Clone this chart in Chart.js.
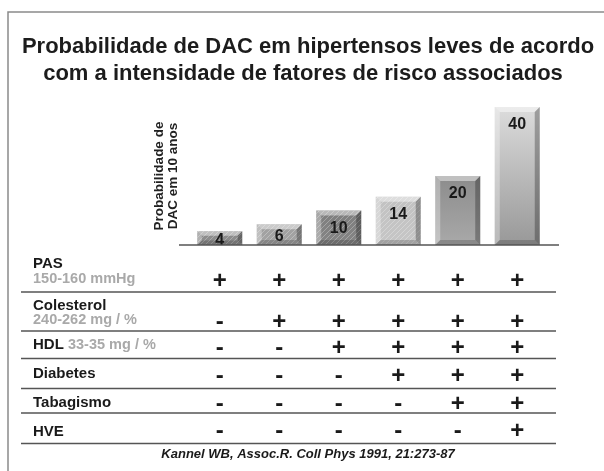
<!DOCTYPE html>
<html>
<head>
<meta charset="utf-8">
<script src="https://cdn.jsdelivr.net/npm/chart.js@4.4.1/dist/chart.umd.min.js"></script>
<style>
	html, body { margin: 0; padding: 0; background: #fff; }
	#caixa { width: 604px; height: 471px; }
</style>
</head>
<body>
<div id="caixa"><canvas id="grafico" width="604" height="471"></canvas></div>
<script>
// Dados do gráfico
const grupos = ["1", "2", "3", "4", "5", "6"];
const probabilidade = [4, 6, 10, 14, 20, 40];
const titulo = [
	"Probabilidade de DAC em hipertensos leves de acordo",
	"com a intensidade de fatores de risco associados",
];
const eixoY = ["Probabilidade de", "DAC em 10 anos"];

// Tabela de fatores de risco
const fatores = ["PAS", "Colesterol", "HDL", "Diabetes", "Tabagismo", "HVE"];
const detalhes = ["150-160 mmHg", "240-262 mg / %", "33-35 mg / %", "", "", ""];
const pas = ["+", "+", "+", "+", "+", "+"];
const colesterol = ["-", "+", "+", "+", "+", "+"];
const hdl = ["-", "-", "+", "+", "+", "+"];
const diabetes = ["-", "-", "-", "+", "+", "+"];
const tabagismo = ["-", "-", "-", "-", "+", "+"];
const hve = ["-", "-", "-", "-", "-", "+"];
const fonte = "Kannel WB, Assoc.R. Coll Phys 1991, 21:273-87";

const letra = "Arial, 'Liberation Sans', sans-serif";

// Cores das faces das barras (topo, base)
const faces = [
	["#8a8a8a", "#8e8e8e"],
	["#a0a0a0", "#a4a4a4"],
	["#7e7e7e", "#858585"],
	["#c2c2c2", "#c6c6c6"],
	["#8c8c8c", "#a9a9a9"],
	["#dcdcdc", "#989898"],
];
const hachurado = [true, true, true, true, false, false];

// Posições verticais das linhas da tabela
const linhas = [
	{ rot: 268, sub: 283, cruz: 280, linha: 292 },
	{ rot: 310, sub: 324, cruz: 320.7, linha: 331 },
	{ rot: 349, sub: null, cruz: 346.7, linha: 358.5 },
	{ rot: 378, sub: null, cruz: 375, linha: 388.5 },
	{ rot: 406.5, sub: null, cruz: 402.7, linha: 413 },
	{ rot: 436, sub: null, cruz: 430, linha: 443.5 },
];
const marcas = [pas, colesterol, hdl, diabetes, tabagismo, hve];

// Padrão de hachuras diagonais
const padrao = (ctx) => {
	const c = document.createElement("canvas");
	c.width = 5;
	c.height = 5;
	const p = c.getContext("2d");
	p.strokeStyle = "rgba(255,255,255,0.28)";
	p.lineWidth = 1;
	p.beginPath();
	p.moveTo(0, 5);
	p.lineTo(5, 0);
	p.stroke();
	return ctx.createPattern(c, "repeat");
};

const desenho = {
	id: "desenho",
	beforeDraw(chart) {
		const ctx = chart.ctx;
		ctx.save();
		ctx.fillStyle = "#fff";
		ctx.fillRect(0, 0, chart.width, chart.height);
		// moldura
		ctx.strokeStyle = "#8a8a8a";
		ctx.lineWidth = 1.5;
		ctx.beginPath();
		ctx.moveTo(8, chart.height);
		ctx.lineTo(8, 12);
		ctx.lineTo(chart.width, 12);
		ctx.stroke();
		// título
		ctx.fillStyle = "#1c1c1c";
		ctx.font = "bold 22px " + letra;
		ctx.textAlign = "center";
		ctx.textBaseline = "alphabetic";
		ctx.fillText(titulo[0], 308, 53);
		ctx.fillText(titulo[1], 303, 80);
		ctx.restore();
	},
	afterDatasetsDraw(chart) {
		const ctx = chart.ctx;
		const area = chart.chartArea;
		const x = chart.scales.x;
		const y = chart.scales.y;
		const meta = chart.getDatasetMeta(0);
		const hach = padrao(ctx);
		ctx.save();

		meta.data.forEach((bar, i) => {
			const l = bar.x - bar.width / 2;
			const r = bar.x + bar.width / 2;
			const t = bar.y;
			const b = bar.base;
			const bv = Math.min(5, (b - t) / 3);
			if (hachurado[i]) {
				ctx.fillStyle = hach;
				ctx.fillRect(l, t, r - l, b - t);
			}
			// bisel
			const faceta = (pts, cor) => {
				ctx.fillStyle = cor;
				ctx.beginPath();
				ctx.moveTo(pts[0][0], pts[0][1]);
				pts.slice(1).forEach((p) => ctx.lineTo(p[0], p[1]));
				ctx.closePath();
				ctx.fill();
			};
			faceta([[l, t], [r, t], [r - bv, t + bv], [l + bv, t + bv]], "rgba(255,255,255,0.45)");
			faceta([[l, t], [l + bv, t + bv], [l + bv, b - bv], [l, b]], "rgba(255,255,255,0.32)");
			faceta([[r, t], [r, b], [r - bv, b - bv], [r - bv, t + bv]], "rgba(0,0,0,0.28)");
			faceta([[l, b], [l + bv, b - bv], [r - bv, b - bv], [r, b]], "rgba(0,0,0,0.18)");

			// valor
			ctx.fillStyle = "#1a1a1a";
			ctx.font = "bold 16px " + letra;
			ctx.textAlign = "center";
			ctx.textBaseline = "middle";
			ctx.fillText(String(probabilidade[i]), bar.x, Math.min(t + 18, (t + b) / 2 + 2));
		});

		// linha de base
		const y0 = y.getPixelForValue(0);
		ctx.strokeStyle = "#555";
		ctx.lineWidth = 1.5;
		ctx.beginPath();
		ctx.moveTo(area.left - 11, y0);
		ctx.lineTo(area.right + 12, y0);
		ctx.stroke();

		// título do eixo Y
		ctx.fillStyle = "#222";
		ctx.font = "bold 13.5px " + letra;
		ctx.textAlign = "center";
		ctx.textBaseline = "middle";
		ctx.translate(area.left - 24, (area.top + area.bottom) / 2);
		ctx.rotate(-Math.PI / 2);
		ctx.fillText(eixoY[0], 0, -7);
		ctx.fillText(eixoY[1], 0, 7);
		ctx.setTransform(1, 0, 0, 1, 0, 0);

		// tabela
		ctx.textBaseline = "alphabetic";
		linhas.forEach((ln, k) => {
			ctx.textAlign = "left";
			ctx.fillStyle = "#1a1a1a";
			ctx.font = "bold 15px " + letra;
			ctx.fillText(fatores[k], 33, ln.rot);
			if (detalhes[k]) {
				const w = ctx.measureText(fatores[k] + " ").width;
				ctx.fillStyle = "#a9a9a9";
				ctx.font = "bold 14.5px " + letra;
				if (ln.sub) ctx.fillText(detalhes[k], 33, ln.sub);
				else ctx.fillText(detalhes[k], 33 + w, ln.rot);
			}
			ctx.fillStyle = "#1a1a1a";
			ctx.font = "bold 24px " + letra;
			ctx.textAlign = "center";
			marcas[k].forEach((m, i) => {
				ctx.fillText(m, x.getPixelForValue(i), ln.cruz + 8.4);
			});
			ctx.strokeStyle = "#555";
			ctx.lineWidth = 1.6;
			ctx.beginPath();
			ctx.moveTo(21, ln.linha);
			ctx.lineTo(556, ln.linha);
			ctx.stroke();
		});

		// fonte
		ctx.fillStyle = "#1a1a1a";
		ctx.font = "italic bold 13px " + letra;
		ctx.textAlign = "center";
		ctx.fillText(fonte, 308, 458);
		ctx.restore();
	},
};

const ctx = document.getElementById("grafico");
const graph = new Chart(ctx, {
	type: "bar",
	data: {
		labels: grupos,
		datasets: [
			{
				data: probabilidade,
				borderWidth: 0,
				categoryPercentage: 1,
				barPercentage: 0.756,
				backgroundColor: (c) => {
					const chart = c.chart;
					if (c.dataIndex === undefined) return "#999";
					const f = faces[c.dataIndex];
					const y = chart.scales.y;
					if (!chart.chartArea || !y) return f[0];
					const g = chart.ctx.createLinearGradient(0, y.getPixelForValue(probabilidade[c.dataIndex]), 0, y.getPixelForValue(0));
					g.addColorStop(0, f[0]);
					g.addColorStop(1, f[1]);
					return g;
				},
			},
		],
	},
	options: {
		responsive: false,
		animation: false,
		devicePixelRatio: 1,
		layout: { padding: { left: 190, right: 57, top: 107, bottom: 226 } },
		plugins: { legend: { display: false }, tooltip: { enabled: false } },
		scales: {
			x: { display: false },
			y: { display: false, min: 0, max: 40 },
		},
	},
	plugins: [desenho],
});
</script>
</body>
</html>
